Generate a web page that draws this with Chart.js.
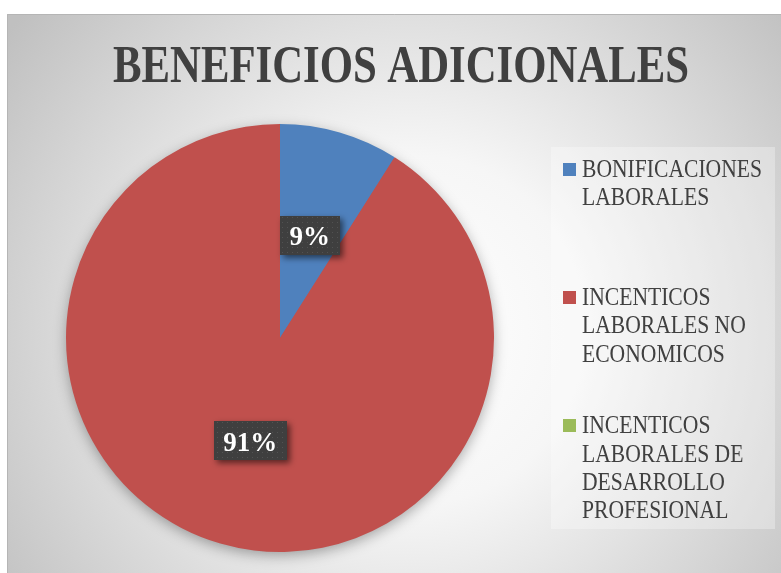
<!DOCTYPE html>
<html><head><meta charset="utf-8">
<script src="https://cdn.jsdelivr.net/npm/chart.js@4.4.1/dist/chart.umd.min.js"></script>
<style>html,body{margin:0;padding:0;background:#fff;overflow:hidden}</style>
</head><body><canvas id="c" width="781" height="573"></canvas>
<script>
const chartTitle = "BENEFICIOS ADICIONALES";
const categories = ["BONIFICACIONES LABORALES", "INCENTICOS LABORALES NO ECONOMICOS", "INCENTICOS LABORALES DE DESARROLLO PROFESIONAL"];
const values = [9, 91, 0];
const colors = ["#4F81BD", "#C0504D", "#9BBB59"];

const SERIF = '"Liberation Serif", "DejaVu Serif", serif';

function makePattern(ctx) {
  const pc = document.createElement('canvas');
  pc.width = 5; pc.height = 5;
  const p = pc.getContext('2d');
  p.fillStyle = '#3f3f3f'; p.fillRect(0, 0, 5, 5);
  p.fillStyle = '#525252'; p.fillRect(2, 2, 1, 1);
  return ctx.createPattern(pc, 'repeat');
}

const bgPlugin = {
  id: 'bg',
  beforeDraw(chart) {
    const ctx = chart.ctx;
    ctx.save();
    ctx.fillStyle = '#ffffff';
    ctx.fillRect(0, 0, chart.width, chart.height);
    const g = ctx.createRadialGradient(410, 330, 0, 410, 330, 500);
    g.addColorStop(0, '#ffffff');
    g.addColorStop(0.35, '#f6f6f6');
    g.addColorStop(1, '#c0c0c0');
    ctx.fillStyle = g;
    ctx.fillRect(7, 14, chart.width - 7, chart.height - 14);
    ctx.strokeStyle = '#b5b5b5';
    ctx.lineWidth = 1;
    ctx.beginPath();
    ctx.moveTo(7.5, chart.height); ctx.lineTo(7.5, 14.5); ctx.lineTo(chart.width, 14.5);
    ctx.stroke();
    // legend area
    ctx.fillStyle = 'rgba(255,255,255,0.3)';
    ctx.fillRect(551, 147, 224, 382);
    ctx.restore();
  },
  beforeDatasetsDraw(chart) {
    const ctx = chart.ctx;
    const arc = chart.getDatasetMeta(0).data[0];
    const { x, y, outerRadius } = arc.getProps(['x', 'y', 'outerRadius'], true);
    ctx.save();
    ctx.shadowColor = 'rgba(0,0,0,0.35)';
    ctx.shadowBlur = 14;
    ctx.shadowOffsetY = 4;
    ctx.fillStyle = colors[1];
    ctx.beginPath();
    ctx.arc(x, y, outerRadius - 1, 0, Math.PI * 2);
    ctx.fill();
    ctx.restore();
  },
  afterDatasetsDraw(chart) {
    const ctx = chart.ctx;
    const meta = chart.getDatasetMeta(0);
    const total = values.reduce((a, b) => a + b, 0);
    const pat = makePattern(ctx);
    meta.data.forEach((arc, i) => {
      const v = values[i];
      if (!v) return;
      const txt = Math.round(v / total * 100) + '%';
      const p = arc.getCenterPoint();
      ctx.save();
      ctx.font = 'bold 27px ' + SERIF;
      const tw = ctx.measureText(txt).width;
      const w = tw + 19, h = 39;
      ctx.shadowColor = 'rgba(0,0,0,0.55)';
      ctx.shadowBlur = 6;
      ctx.shadowOffsetX = 3;
      ctx.shadowOffsetY = 3;
      ctx.fillStyle = pat;
      ctx.fillRect(Math.round(p.x - w / 2), Math.round(p.y - h / 2), Math.round(w), h);
      ctx.shadowColor = 'transparent';
      ctx.fillStyle = '#ffffff';
      ctx.textAlign = 'center';
      ctx.textBaseline = 'alphabetic';
      ctx.fillText(txt, p.x, p.y + 10);
      ctx.restore();
    });
  },
  afterDraw(chart) {
    const ctx = chart.ctx;
    // title
    ctx.save();
    ctx.font = 'bold 52px ' + SERIF;
    ctx.fillStyle = '#404040';
    ctx.textAlign = 'center';
    ctx.textBaseline = 'alphabetic';
    const tW = ctx.measureText(chartTitle).width;
    ctx.translate(401, 82);
    ctx.scale(576 / tW, 1);
    ctx.fillText(chartTitle, 0, 0);
    ctx.restore();

    // legend
    ctx.save();
    ctx.font = '25px ' + SERIF;
    const sx = 180 / ctx.measureText('BONIFICACIONES').width;
    const maxW = 195;
    const lineH = 28.3, capH = 16.7;
    categories.forEach((label, i) => {
      const words = label.split(' ');
      const lines = [];
      let cur = '';
      words.forEach(wd => {
        const t = cur ? cur + ' ' + wd : wd;
        if (cur && ctx.measureText(t).width * sx > maxW) { lines.push(cur); cur = wd; }
        else cur = t;
      });
      if (cur) lines.push(cur);
      const center = 182.5 + i * 142.5;
      const blockH = capH + (lines.length - 1) * lineH;
      const base0 = center - blockH / 2 + capH;
      ctx.fillStyle = colors[i];
      ctx.fillRect(563, Math.round(base0 - 14), 13, 13);
      ctx.fillStyle = '#404040';
      lines.forEach((ln, k) => {
        ctx.save();
        ctx.translate(582, base0 + k * lineH);
        ctx.scale(sx, 1);
        ctx.fillText(ln, 0, 0);
        ctx.restore();
      });
    });
    ctx.restore();
  }
};

new Chart(document.getElementById('c'), {
  type: 'pie',
  data: {
    labels: categories,
    datasets: [{
      data: values,
      backgroundColor: colors,
      borderWidth: 0,
      hoverOffset: 0,
      offset: 0
    }]
  },
  options: {
    responsive: false,
    devicePixelRatio: 1,
    animation: false,
    events: [],
    layout: { padding: { left: 66, right: 287, top: 124, bottom: 21 } },
    plugins: {
      legend: { display: false },
      title: { display: false },
      tooltip: { enabled: false }
    }
  },
  plugins: [bgPlugin]
});
</script>
</body></html>
